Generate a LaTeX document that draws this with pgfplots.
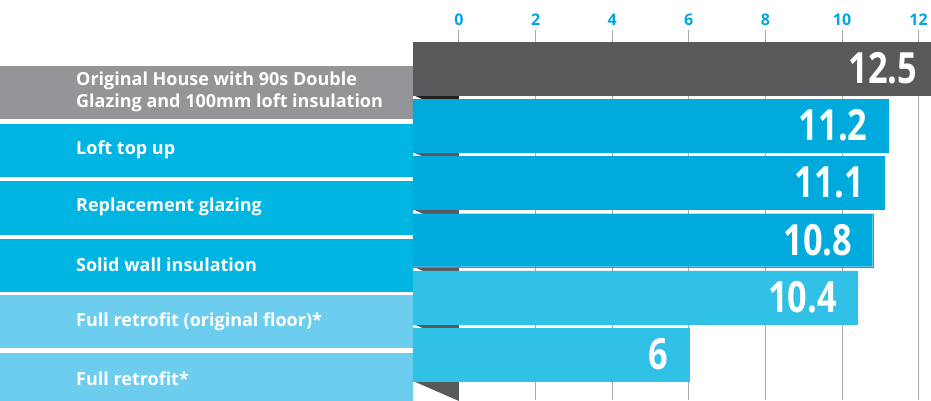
\documentclass[border=0pt]{standalone}
\usepackage{fontspec}
\setmainfont{Open Sans}
\newfontfamily\valfont{Open Sans}[FakeStretch=0.8]
\usepackage{pgfplots}
\pgfplotsset{compat=1.18}
\definecolor{darkbar}{HTML}{58595B}
\definecolor{cyanbar}{HTML}{00AADD}
\definecolor{lightbar}{HTML}{32C1E6}
\definecolor{bandgray}{HTML}{939598}
\definecolor{bandcyan}{HTML}{00B5E2}
\definecolor{bandlight}{HTML}{6DCDEE}
\definecolor{folddark}{HTML}{58595B}
\definecolor{foldblack}{HTML}{231F20}
\definecolor{tickcyan}{HTML}{00A6DD}
\definecolor{gridgray}{HTML}{A7A9AC}
\begin{document}
\begin{tikzpicture}
\useasboundingbox (0,0) rectangle (931pt,400pt);
\begin{axis}[
  at={(0,0)}, anchor=south west,
  scale only axis, width=931pt, height=370pt,
  xmin=-11.984, xmax=12.324, ymin=-400, ymax=-30,
  axis line style={draw=none},
  xtick={0,2,4,6,8,10,12}, ytick=\empty,
  xtick pos=upper, xticklabel pos=upper,
  major tick length=0pt,
  xmajorgrids, grid style={color=gridgray, line width=1pt},
  xticklabel style={font=\bfseries\fontsize{16}{16}\selectfont, text=tickcyan, yshift=1pt},
  /pgf/number format/assume math mode=true,
  clip=false,
  every axis plot/.append style={xbar, bar shift=0pt, bar width=53pt},
  valstyle/.style={point meta=x, nodes near coords,
    nodes near coords style={anchor=east, xshift=-17pt, text=white,
      font=\valfont\bfseries\fontsize{43}{43}\selectfont,
      /pgf/number format/assume math mode=true}},
]
% label bands
\fill[bandgray]  (axis cs:-11.984,-66)    rectangle (axis cs:-1.201,-118.5);
\fill[bandcyan]  (axis cs:-11.984,-123.5) rectangle (axis cs:-1.201,-176.5);
\fill[bandcyan]  (axis cs:-11.984,-181)   rectangle (axis cs:-1.201,-234.5);
\fill[bandcyan]  (axis cs:-11.984,-238.5) rectangle (axis cs:-1.201,-291.5);
\fill[bandlight] (axis cs:-11.984,-295)   rectangle (axis cs:-1.201,-348);
\fill[bandlight] (axis cs:-11.984,-352.5) rectangle (axis cs:-1.201,-410);
% band texts
\node[anchor=west, align=left, text=white, font=\bfseries\fontsize{18}{22}\selectfont, inner sep=0pt] at (axis cs:-10.0,-92.3) {Original House with 90s Double\\Glazing and 100mm loft insulation};
\node[anchor=west, text=white, font=\bfseries\fontsize{18}{22}\selectfont, inner sep=0pt] at (axis cs:-10.0,-150) {Loft top up};
\node[anchor=west, text=white, font=\bfseries\fontsize{18}{22}\selectfont, inner sep=0pt] at (axis cs:-10.0,-207.3) {Replacement glazing};
\node[anchor=west, text=white, font=\bfseries\fontsize{18}{22}\selectfont, inner sep=0pt] at (axis cs:-10.0,-264.5) {Solid wall insulation};
\node[anchor=west, text=white, font=\bfseries\fontsize{18}{22}\selectfont, inner sep=0pt] at (axis cs:-10.0,-321.8) {Full retrofit (original floor)*};
\node[anchor=west, text=white, font=\bfseries\fontsize{18}{22}\selectfont, inner sep=0pt] at (axis cs:-10.0,-379) {Full retrofit*};
% folds
\fill[foldblack] (axis cs:-1.201,-95)   -- (axis cs:0,-95)   -- (axis cs:0,-115)   -- cycle;
\fill[folddark]  (axis cs:-1.201,-152.2) -- (axis cs:0,-152.2) -- (axis cs:0,-172.2) -- cycle;
\fill[folddark]  (axis cs:-1.201,-209.4) -- (axis cs:0,-209.4) -- (axis cs:0,-229.4) -- cycle;
\fill[folddark]  (axis cs:-1.201,-266.6) -- (axis cs:0,-266.6) -- (axis cs:0,-286.6) -- cycle;
\fill[folddark]  (axis cs:-1.201,-323.8) -- (axis cs:0,-323.8) -- (axis cs:0,-343.8) -- cycle;
\fill[folddark]  (axis cs:-1.201,-381)   -- (axis cs:0,-381)   -- (axis cs:0,-401)   -- cycle;
% bars: left extensions
\addplot[fill=darkbar, draw=darkbar, line width=0.2pt] coordinates {(-1.201,-68.5)};
\addplot[fill=cyanbar, draw=cyanbar, line width=0.2pt] coordinates {(-1.201,-125.7) (-1.201,-182.9) (-1.201,-240.1)};
\addplot[fill=lightbar, draw=lightbar, line width=0.2pt] coordinates {(-1.201,-297.3) (-1.201,-354.5)};
% bars: values
\addplot[fill=darkbar, draw=darkbar, line width=0.2pt, valstyle] coordinates {(12.5,-68.5)};
\addplot[fill=cyanbar, draw=cyanbar, line width=0.2pt, valstyle] coordinates {(11.2,-125.7) (11.1,-182.9) (10.8,-240.1)};
\addplot[fill=lightbar, draw=lightbar, line width=0.2pt, valstyle] coordinates {(10.4,-297.3) (6,-354.5)};
\end{axis}
\end{tikzpicture}
\end{document}
